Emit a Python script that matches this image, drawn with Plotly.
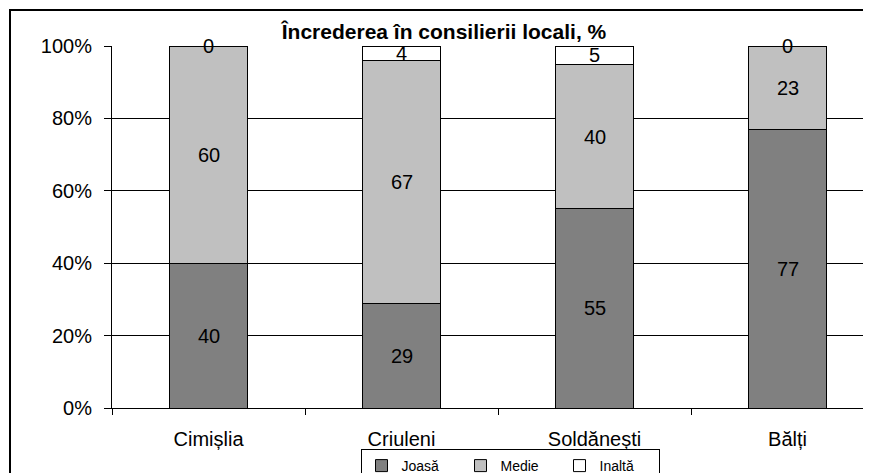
import plotly.graph_objects as go

# data
categories = ["Cimișlia", "Criuleni", "Soldănești", "Bălți"]
series_names = ["Joasă", "Medie", "Inaltă"]
joasa = [40, 29, 55, 77]
medie = [60, 67, 40, 23]
inalta = [0, 4, 5, 0]
y_ticks = [0, 20, 40, 60, 80, 100]
y_tick_labels = ["0%", "20%", "40%", "60%", "80%", "100%"]

COLORS = ["#808080", "#C0C0C0", "#FFFFFF"]
FONT = "Arial, Liberation Sans, sans-serif"

# page body has an 8px margin, so everything is laid out 8px up/left
L, T, BOT = 104, 38, 400          # plot area left / top / bottom in figure px
W, H = 871, 500
PLOT_W = W - L
PLOT_H = BOT - T
CAT_W = 193                       # px per category in the reference

fig = go.Figure()
all_series = [joasa, medie, inalta]
for name, vals, col in zip(series_names, all_series, COLORS):
    fig.add_trace(go.Bar(
        x=categories, y=vals, name=name,
        marker=dict(color=col, line=dict(color="black", width=1)),
    ))

# value labels in the middle of each segment
for i, cat in enumerate(categories):
    base = 0
    for vals in all_series:
        v = vals[i]
        fig.add_annotation(x=cat, y=base + v / 2, text=str(v), showarrow=False,
                           font=dict(size=20, color="black", family=FONT))
        base += v

# outer chart border (cut off at right and bottom like the reference)
fig.add_shape(type="rect", xref="paper", yref="paper",
              x0=(2 - L) / PLOT_W, x1=1.2, y0=-0.6, y1=1 + (T - 2) / PLOT_H,
              line=dict(color="black", width=2), fillcolor="rgba(0,0,0,0)")

fig.update_layout(
    width=W, height=H,
    margin=dict(l=L, r=0, t=T, b=H - BOT),
    barmode="stack",
    bargap=0.596,
    paper_bgcolor="white", plot_bgcolor="white",
    font=dict(family=FONT, size=20, color="black"),
    title=dict(text="<b>Încrederea în consilierii locali, %</b>",
               x=436 / W, xanchor="center", y=1 - 24 / H, yanchor="middle",
               font=dict(size=21, family=FONT, color="black")),
    legend=dict(orientation="h", x=(502 - L) / PLOT_W, xanchor="center",
                y=-(441 - BOT) / PLOT_H, yanchor="top",
                bordercolor="black", borderwidth=1, bgcolor="white",
                font=dict(size=14, family=FONT), traceorder="normal",
                entrywidth=54, entrywidthmode="pixels"),
    showlegend=True,
)
fig.update_xaxes(range=[-0.5, -0.5 + PLOT_W / CAT_W], showline=True, linecolor="black",
                 linewidth=1, ticks="outside", tickson="boundaries", ticklen=6,
                 tickcolor="black", showgrid=False, tickfont=dict(size=20),
                 ticklabelstandoff=13)
fig.update_yaxes(range=[0, 100], tickmode="array", tickvals=y_ticks,
                 ticktext=y_tick_labels,
                 showline=True, linecolor="black", linewidth=1,
                 ticks="outside", ticklen=7, tickcolor="black",
                 showgrid=True, gridcolor="black", gridwidth=1,
                 zeroline=False, tickfont=dict(size=20),
                 ticklabelstandoff=8)

fig.write_html("out.html")
